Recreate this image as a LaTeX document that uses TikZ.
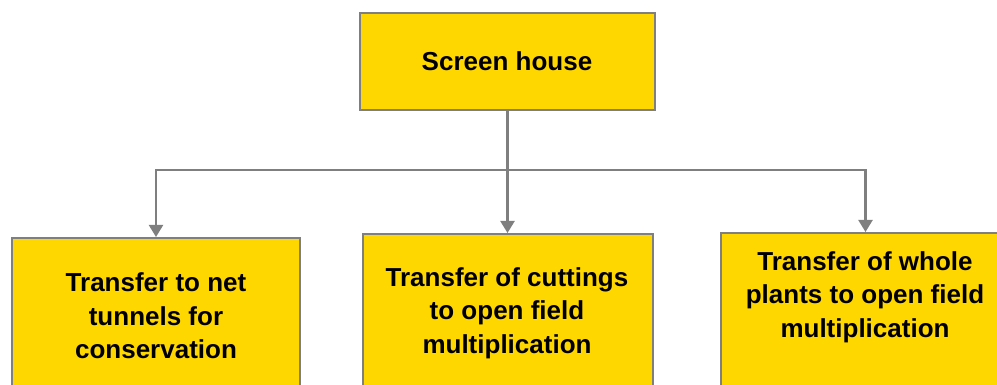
\documentclass[tikz,border=0pt]{standalone}
\usepackage{fontspec}
\setmainfont{Liberation Sans}
\usetikzlibrary{arrows.meta}
\definecolor{boxfill}{HTML}{FFD700}
\definecolor{boxline}{HTML}{7F7F7F}
\tikzset{
  box/.style={draw=boxline, line width=2pt, fill=boxfill, inner sep=0pt},
  txt/.style={align=center, font=\fontsize{26}{33.5}\selectfont\bfseries, inner sep=0pt},
  conn/.style={draw=boxline, line width=2.2pt},
  arr/.style={conn, -{Triangle[length=12pt, width=14pt]}}
}
\begin{document}
\begin{tikzpicture}[x=1pt, y=-1pt]
\useasboundingbox (0,0) rectangle (997,385);
\begin{scope}
\clip (0,0) rectangle (997,385);
\node[box, minimum width=295pt, minimum height=97pt] (top) at (507.5,61.5) {};
\node[txt] (ttop) at (507,61) {Screen house};
\node[box, minimum width=288pt, minimum height=182pt] (b1) at (156,329) {};
\node[box, minimum width=290pt, minimum height=186pt] (b2) at (507.5,327) {};
\node[box, minimum width=289pt, minimum height=187pt] (b3) at (865.5,326.5) {};
\node[txt] (t1) at (156,316) {Transfer to net\\tunnels for\\conservation};
\node[txt] (t2) at (507,313) {Transfer of cuttings\\to open field\\multiplication};
\node[txt] (t3) at (865,297) {Transfer of whole\\plants to open field\\multiplication};
\coordinate (j) at (507.5,170);
\draw[conn] (top.south) -- (j);
\draw[arr] (j) -| (b1.north);
\draw[arr] (j) -| (b3.north);
\draw[arr] (j) -- (b2.north);
\end{scope}
\end{tikzpicture}
\end{document}
